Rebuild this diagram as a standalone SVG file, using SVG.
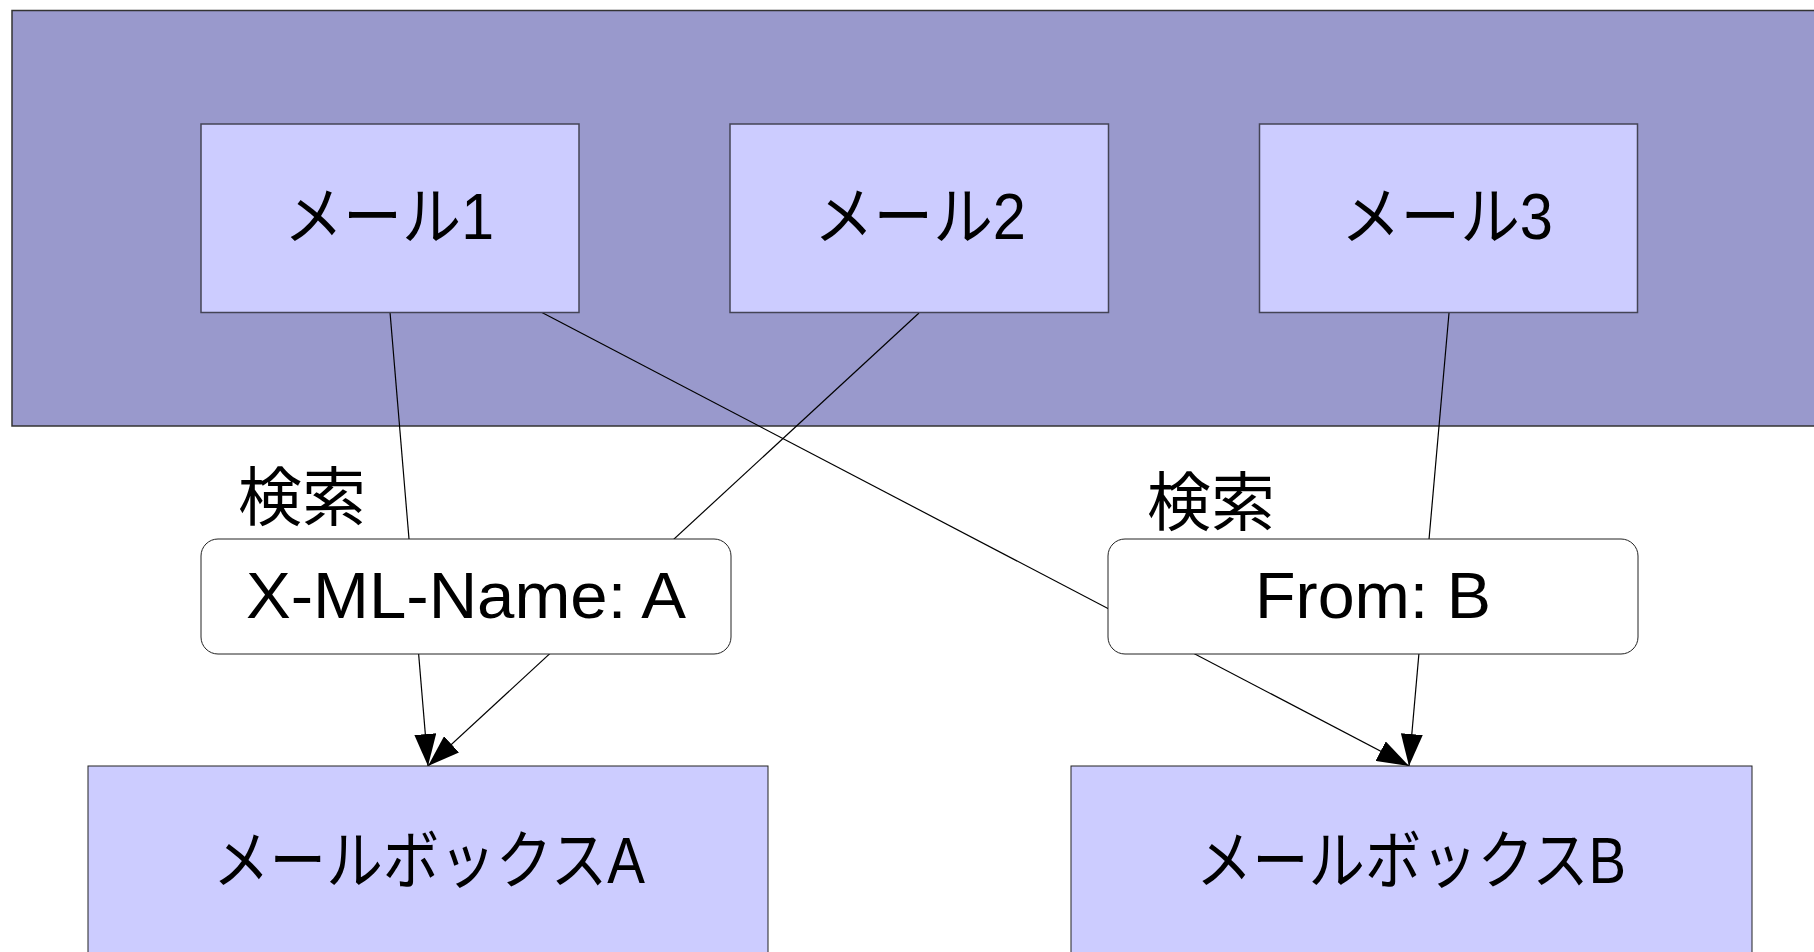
<svg xmlns="http://www.w3.org/2000/svg" width="1814" height="952" viewBox="0 0 1814 952">
<defs>
<style>
text{font-family:"Liberation Sans","Noto Sans CJK JP",sans-serif;font-size:64px;fill:#000;text-anchor:middle}
.mail{fill:#ccccff;stroke:#444455;stroke-width:1.5}
.box{fill:#ccccff;stroke:#222;stroke-width:1}
.cond{fill:#fff;stroke:#222;stroke-width:1}
.edge{stroke:#000;stroke-width:1.2;fill:none}
</style>
<marker id="arr" markerUnits="userSpaceOnUse" markerWidth="32" markerHeight="22" refX="32" refY="11" orient="auto">
<path d="M0,0 L32,11 L0,22 z" fill="#000"/>
</marker>
</defs>
<rect width="1814" height="952" fill="#fff"/>
<g id="container">
<rect x="12" y="10.5" width="1830" height="415.5" fill="#9999cc" stroke="#333" stroke-width="1.5"/>
</g>
<g id="connectors">
<line class="edge" x1="390" y1="312" x2="428" y2="766" marker-end="url(#arr)"/>
<line class="edge" x1="919" y1="313" x2="428" y2="766" marker-end="url(#arr)"/>
<line class="edge" x1="541" y1="312" x2="1409" y2="766" marker-end="url(#arr)"/>
<line class="edge" x1="1449" y1="313" x2="1409" y2="766" marker-end="url(#arr)"/>
</g>
<g id="mail1">
<rect class="mail" x="201" y="124" width="378" height="188.5"/>
<text x="389" y="239" textLength="210" lengthAdjust="spacingAndGlyphs">メール1</text>
</g>
<g id="mail2">
<rect class="mail" x="730" y="124" width="378.5" height="188.5"/>
<text x="920" y="239" textLength="212" lengthAdjust="spacingAndGlyphs">メール2</text>
</g>
<g id="mail3">
<rect class="mail" x="1259.5" y="124" width="378" height="188.5"/>
<text x="1447" y="239" textLength="212" lengthAdjust="spacingAndGlyphs">メール3</text>
</g>
<g id="label1">
<text x="302" y="520">検索</text>
</g>
<g id="filterA">
<rect class="cond" x="201" y="539" width="530" height="115" rx="17" ry="17"/>
<text x="466" y="618" textLength="440" lengthAdjust="spacingAndGlyphs">X-ML-Name: A</text>
</g>
<g id="label2">
<text x="1211" y="525">検索</text>
</g>
<g id="filterB">
<rect class="cond" x="1108" y="539" width="530" height="115" rx="17" ry="17"/>
<text x="1373" y="618" textLength="236" lengthAdjust="spacingAndGlyphs">From: B</text>
</g>
<g id="mailboxA">
<rect class="box" x="88" y="766" width="680" height="200"/>
<text x="429" y="883" textLength="432" lengthAdjust="spacingAndGlyphs">メールボックスA</text>
</g>
<g id="mailboxB">
<rect class="box" x="1071" y="766" width="681" height="200"/>
<text x="1411" y="883" textLength="430" lengthAdjust="spacingAndGlyphs">メールボックスB</text>
</g>
</svg>
